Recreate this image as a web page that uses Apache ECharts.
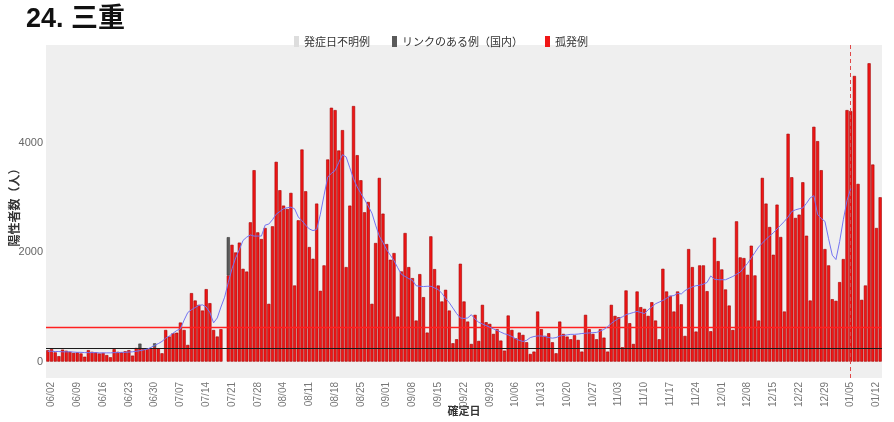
<!DOCTYPE html>
<html>
<head>
<meta charset="utf-8">
<script src="https://cdn.jsdelivr.net/npm/echarts@6/dist/echarts.min.js"></script>
<style>
  html, body { margin: 0; padding: 0; background: #fff; }
  #chart { width: 894px; height: 422px; }
</style>
</head>
<body>
<div id="chart"></div>
<script>
 // 日別の陽性者数 (06/01 〜 01/13)
 var startDate = [2022, 5, 1];
 var dayCount = 227;

 // 孤発例
 var isolated = [
   210, 230, 170, 100, 220, 200, 180, 160, 170, 150, 90, 210, 180, 170, 150, 160, 120, 80, 230, 180, 170, 190, 210, 110, 250, 240, 230,
   230, 245, 266, 245, 153, 580, 460, 520, 530, 716, 580, 306, 1255, 1120, 1040, 936, 1328, 1071, 580, 460, 594, null, 1580, 2140, 2000, 2180, 1700, 1650, 2552, 3507,
   2368, 2246, 2448, 1059, 2479, 3660, 3140, 2858, 2797, 3091, 1395, 2589, 3886, 3121, 2099, 1885, 2895, 1297, 1763, 3703, 4651, 4608, 3868, 4241, 1732, 2858, 4682, 3782, 3323, 2736,
   2925, 1059, 2173, 3366, 2711, 2154, 1867, 1989, 826, 1652, 2356, 1732, 1530, 753, 1603, 1181, 532, 2295, 1695, 1395, 1102, 1316, 936, 337, 410, 1793, 1102, 734, 324, 857,
   380, 1040, 722, 692, 508, 594, 386, 202, 845, 581, 428, 532, 490, 355, 141, 184, 918, 594, 471, 520, 355, 153, 734, 508, 459, 410, 483, 398, 184, 857,
   594, 508, 410, 594, 440, 184, 1040, 838, 814, 263, 1304, 704, 324, 1285, 998, 967, 838, 1089, 753, 410, 1701, 1285, 1206, 918, 1285, 1050, 471, 2062, 1732, 551,
   1763, 1763, 1291, 557, 2271, 1842, 1689, 1322, 1028, 581, 2570, 1909, 1897, 1591, 2124, 1579, 753, 3366, 2895, 2466, 1958, 2876, 2283, 918, 4174,
   3378, 2632, 2693, 3286, 2307, 1120, 4302, 4039, 3507, 2062, 1763, 1144, 1114, 1457, 1879, 4608, 4590, 5233, 3256, 1132, 1395, 5465, 3611, 2448, 3011
 ];
 // リンクのある例（国内）
 var linked = { '06/26': 90, '06/30': 70, '07/20': 700 };
 // 発症日不明例
 var unknownOnset = {};

 // 移動平均 (青線)
 var avgLine = [
   190, 190, 185, 185, 180, 180, 180, 175, 170, 170, 165, 165, 165, 165, 160, 160, 160, 160, 165, 165, 170, 170, 175, 180, 190,
   200, 214, 230, 260, 300, 330, 370, 430, 470, 520, 570, 600, 760, 900, 950, 990, 1030, 1040, 1000, 900, 710, 800, 1000, 1180, 1450, 1700, 1900, 2050, 2220, 2280, 2320, 2300,
   2300, 2300, 2500, 2520, 2600, 2700, 2750, 2800, 2820, 2830, 2800, 2650, 2580, 2500, 2430, 2400, 2420, 2700, 3050, 3380, 3450, 3500, 3650, 3790, 3750, 3550, 3350, 3200, 3080, 2970,
   2850, 2720, 2500, 2300, 2180, 2050, 1950, 1850, 1720, 1600, 1560, 1520, 1490, 1390, 1380, 1375, 1380, 1380, 1350, 1320, 1250, 1160, 1080, 980, 880, 800, 790, 800, 860, 780,
   720, 690, 660, 630, 600, 570, 540, 510, 490, 460, 420, 390, 370, 390, 440, 460, 470, 470, 460, 440, 430, 440, 470, 480, 490, 500, 500, 505, 515, 520,
   525, 530, 535, 560, 590, 640, 700, 750, 790, 820, 860, 880, 900, 920, 900, 880, 950, 1000, 1060, 1090, 1120, 1160, 1200, 1210, 1250, 1240, 1300, 1340, 1370, 1390,
   1400, 1420, 1450, 1570, 1510, 1500, 1500, 1500, 1530, 1560, 1600, 1640, 1720, 1800, 1900, 2000, 2100, 2170, 2240, 2300, 2360, 2430, 2500, 2570,
   2650, 2750, 2780, 2800, 2815, 2900, 3000, 3040, 2700, 2620, 2570, 2250, 1950, 1870, 2200, 2600, 2950, 3170,
   null, null, null, null, null, null, null, null
 ];

 var redLevel = 630;     // 赤の横線
 var blackLevel = 240;   // 黒の横線
 var markDate = '01/05'; // 赤の点線
 var yTicks = [0, 2000, 4000];

 function pad(n) { return (n < 10 ? '0' : '') + n; }

 function makeDates() {
   var list = [];
   for (var i = 0; i < dayCount; i++) {
     var d = new Date(startDate[0], startDate[1], startDate[2] + i);
     list.push(pad(d.getMonth() + 1) + '/' + pad(d.getDate()));
   }
   return list;
 }

 function makeLine(item, color, width, type) {
   return {
     silent: true,
     symbol: 'none',
     label: { show: false },
     lineStyle: { color: color, width: width, type: type, opacity: 1 },
     emphasis: { disabled: true },
     data: [item]
   };
 }

 function makeOption() {
   var dates = makeDates();
   var linkedData = dates.map(function (d) { return linked[d] || null; });
   var unknownData = dates.map(function (d) { return unknownOnset[d] || null; });
   var option = {
     animation: false,
     textStyle: { fontFamily: 'Liberation Sans, Noto Sans CJK JP, sans-serif' },
     title: {
       text: '24. 三重',
       left: 21,
       top: 1,
       textStyle: { fontSize: 27, fontWeight: 'bold', color: '#111',
                    fontFamily: 'Liberation Sans, Noto Sans CJK JP, sans-serif' }
     },
     legend: {
       top: 31,
       left: 289,
       itemWidth: 5,
       itemHeight: 11,
       itemGap: 22,
       itemStyle: { borderWidth: 0 },
       textStyle: { fontSize: 11, color: '#333', fontFamily: 'Noto Sans CJK JP' },
       data: [
         { name: '発症日不明例', icon: 'rect' },
         { name: 'リンクのある例（国内）', icon: 'rect' },
         { name: '孤発例', icon: 'rect' }
       ]
     },
     grid: {
       left: 46, right: 12, top: 45, bottom: 44,
       containLabel: false,
       outerBoundsMode: 'none',
       show: true, backgroundColor: '#efefef', borderWidth: 0
     },
     xAxis: {
       type: 'category',
       data: dates,
       name: '確定日',
       nameLocation: 'middle',
       nameGap: 27,
       nameMoveOverlap: false,
       nameTextStyle: { fontSize: 11, fontWeight: 'bold', color: '#333', fontFamily: 'Noto Sans CJK JP' },
       axisLine: { show: false },
       axisTick: { show: false },
       axisLabel: {
         rotate: 90,
         fontSize: 10,
         color: '#777',
         margin: 4,
         interval: function (index) { return (index - 1) % 7 === 0; }
       }
     },
     yAxis: {
       type: 'value',
       min: -300,
       max: 5800,
       name: '陽性者数（人）',
       nameLocation: 'middle',
       nameGap: 26,
       nameMoveOverlap: false,
       nameTextStyle: { fontSize: 12, fontWeight: 'bold', color: '#333', fontFamily: 'Noto Sans CJK JP',
                        padding: [0, 0, 0, 14] },
       axisLine: { show: false },
       axisTick: { show: false },
       splitLine: { show: false },
       axisLabel: {
         customValues: yTicks, fontSize: 11, color: '#666', margin: 3,
         formatter: function (v) { return String(v); }
       }
     },
     series: [
       {
         name: '孤発例',
         type: 'bar',
         stack: 'cases',
         barCategoryGap: '14%',
         itemStyle: { color: '#f01616', borderColor: '#a30000', borderWidth: 0.6 },
         data: isolated
       },
       {
         name: 'リンクのある例（国内）',
         type: 'bar',
         stack: 'cases',
         itemStyle: { color: '#5a5a5a', borderColor: '#3a3a3a', borderWidth: 0.6 },
         data: linkedData,
         markLine: makeLine({ xAxis: markDate }, '#e04848', 1, [4, 3])
       },
       {
         name: '発症日不明例',
         type: 'bar',
         stack: 'cases',
         itemStyle: { color: '#dddddd' },
         data: unknownData
       },
       {
         name: '移動平均',
         type: 'line',
         z: 5,
         symbol: 'none',
         connectNulls: false,
         lineStyle: { color: '#7474f2', width: 1 },
         data: avgLine,
         markLine: makeLine({ yAxis: blackLevel }, '#1a1a1a', 1.2, 'solid')
       },
       {
         name: '基準線',
         type: 'line',
         z: 6,
         symbol: 'none',
         data: [],
         markLine: makeLine({ yAxis: redLevel }, '#ff2020', 1.4, 'solid')
       }
     ]
   };
   return option;
 }

 function setChart(id, option) {
   var myChart = echarts.init(document.getElementById(id));
   myChart.setOption(option);
 }

 setChart('chart', makeOption());
</script>
</body>
</html>
